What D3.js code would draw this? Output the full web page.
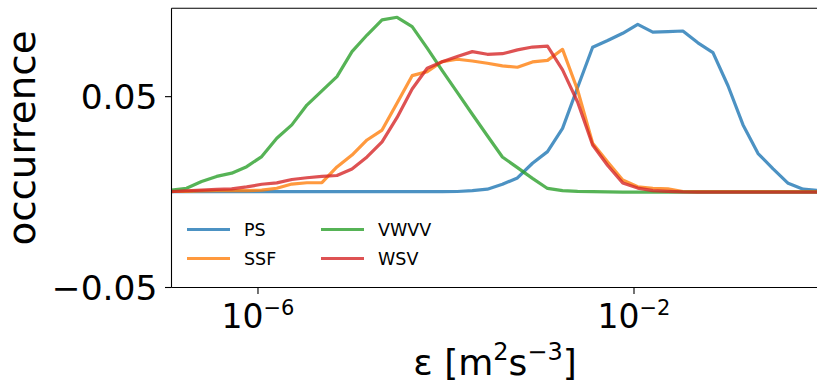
<!DOCTYPE html>
<html>
<head>
<meta charset="utf-8">
<script src="https://cdn.jsdelivr.net/npm/d3@7"></script>
<style>
  html, body { margin: 0; padding: 0; background: #fff; }
  svg { display: block; font-family: "DejaVu Sans", sans-serif; }
</style>
</head>
<body>
<svg id="chart" width="817" height="384"></svg>
<script>
// log10 of the dissipation-rate bin centres
const logEps = [-6.92, -6.76, -6.60, -6.44, -6.28, -6.12, -5.96, -5.80, -5.64, -5.48,
                -5.32, -5.16, -5.00, -4.84, -4.68, -4.52, -4.36, -4.20, -4.04, -3.88,
                -3.72, -3.56, -3.40, -3.24, -3.08, -2.92, -2.76, -2.60, -2.44, -2.28,
                -2.12, -1.96, -1.80, -1.64, -1.48, -1.32, -1.16, -1.00, -0.84, -0.68,
                -0.52, -0.36, -0.20, -0.04];

// occurrence per bin for each regime
const PS = [0.0002, 0.0002, 0.0002, 0.0002, 0.0002, 0.0002, 0.0002, 0.0002, 0.0002, 0.0002,
            0.0002, 0.0002, 0.0002, 0.0002, 0.0002, 0.0002, 0.0002, 0.0002, 0.0002, 0.0003,
            0.0008, 0.0015, 0.0041, 0.0074, 0.0151, 0.0212, 0.0334, 0.0548, 0.0759, 0.0794,
            0.0832, 0.0879, 0.0838, 0.0841, 0.0844, 0.0782, 0.0731, 0.0557, 0.0352, 0.0202,
            0.0122, 0.0046, 0.0015, 0.0008];
const SSF = [0.0003, 0.0004, 0.0006, 0.0007, 0.0008, 0.0008, 0.0010, 0.0020, 0.0042, 0.0049,
             0.0050, 0.0132, 0.0194, 0.0273, 0.0325, 0.0467, 0.0610, 0.0631, 0.0684, 0.0696,
             0.0687, 0.0675, 0.0661, 0.0654, 0.0682, 0.0690, 0.0748, 0.0535, 0.0256, 0.0158,
             0.0063, 0.0028, 0.0020, 0.0017, 0.0003, 0.0002, 0.0002, 0.0002, 0.0002, 0.0002,
             0.0002, 0.0002, 0.0002, 0.0002];
const VWVV = [0.0011, 0.0020, 0.0055, 0.0082, 0.0099, 0.0133, 0.0186, 0.0282, 0.0352, 0.0456,
              0.0530, 0.0605, 0.0736, 0.0823, 0.0902, 0.0916, 0.0867, 0.0754, 0.0636, 0.0522,
              0.0408, 0.0295, 0.0184, 0.0128, 0.0072, 0.0019, 0.0008, 0.0004, 0.0002, 0.0001,
              0, 0, 0, 0, 0, 0, 0, 0, 0, 0,
              0, 0, 0, 0];
const WSV = [0.0003, 0.0007, 0.0010, 0.0014, 0.0017, 0.0027, 0.0041, 0.0048, 0.0066, 0.0075,
             0.0082, 0.0087, 0.0121, 0.0184, 0.0263, 0.0391, 0.0540, 0.0649, 0.0683, 0.0710,
             0.0736, 0.0722, 0.0725, 0.0745, 0.0760, 0.0765, 0.0640, 0.0472, 0.0247, 0.0139,
             0.0048, 0.0021, 0.0008, 0.0004, 0.0001, 0, 0, 0, 0, 0,
             0, 0, 0, 0];

const seriesNames = ["PS", "SSF", "VWVV", "WSV"];
const seriesValues = [PS, SSF, VWVV, WSV];
const seriesColors = ["#1f77b4", "#ff7f0e", "#2ca02c", "#d62728"];

const xTickExponents = [-6, -2];
const yTicks = [-0.05, 0.05];
const yTickLabels = ["\u22120.05", "0.05"];

const svg = d3.select("#chart");
const plot = { left: 171.5, right: 818, top: 8.3, bottom: 287.5 };

const x = d3.scaleLog()
  .domain([Math.pow(10, -6.92), Math.pow(10, -0.0426)])
  .range([plot.left, plot.right]);
const y = d3.scaleLinear()
  .domain([-0.05, 0.0963])
  .range([plot.bottom, plot.top]);

svg.append("defs").append("clipPath").attr("id", "plotclip")
  .append("rect")
  .attr("x", plot.left).attr("y", plot.top)
  .attr("width", plot.right - plot.left).attr("height", plot.bottom - plot.top);

// series lines
const line = d3.line()
  .x((d, i) => x(Math.pow(10, logEps[i])))
  .y(d => y(d));

const lines = svg.append("g").attr("clip-path", "url(#plotclip)");
seriesValues.forEach((vals, s) => {
  lines.append("path")
    .datum(vals)
    .attr("d", line)
    .attr("fill", "none")
    .attr("stroke", seriesColors[s])
    .attr("stroke-opacity", 0.8)
    .attr("stroke-width", 3.2)
    .attr("stroke-linejoin", "round")
    .attr("stroke-linecap", "square");
});

// frame: left, top, bottom spines
const frame = svg.append("g").attr("stroke", "#000").attr("stroke-width", 1.1).attr("fill", "none");
frame.append("line").attr("x1", plot.left).attr("x2", plot.left).attr("y1", plot.top).attr("y2", plot.bottom);
frame.append("line").attr("x1", plot.left).attr("x2", plot.right).attr("y1", plot.top).attr("y2", plot.top);
frame.append("line").attr("x1", plot.left).attr("x2", plot.right).attr("y1", plot.bottom).attr("y2", plot.bottom);

// y axis ticks
const yAxis = svg.append("g");
yTicks.forEach((t, i) => {
  const yy = y(t);
  yAxis.append("line")
    .attr("x1", plot.left - 6.5).attr("x2", plot.left)
    .attr("y1", yy).attr("y2", yy)
    .attr("stroke", "#000").attr("stroke-width", 1.1);
  yAxis.append("text")
    .attr("x", plot.left - 14).attr("y", yy + 12)
    .attr("text-anchor", "end")
    .attr("font-size", 34.5)
    .attr("fill", "#000")
    .text(yTickLabels[i]);
});

// x axis ticks with power-of-ten labels
const xAxis = svg.append("g");
xTickExponents.forEach(e => {
  const xx = x(Math.pow(10, e));
  xAxis.append("line")
    .attr("x1", xx).attr("x2", xx)
    .attr("y1", plot.bottom).attr("y2", plot.bottom + 6.5)
    .attr("stroke", "#000").attr("stroke-width", 1.1);
  const t = xAxis.append("text")
    .attr("x", xx).attr("y", 328)
    .attr("text-anchor", "middle")
    .attr("font-size", 33)
    .attr("fill", "#000");
  t.append("tspan").text("10");
  t.append("tspan").attr("font-size", 21).attr("dy", -13).text("\u2212" + Math.abs(e));
});

// axis labels
const xl = svg.append("text")
  .attr("x", 495).attr("y", 375)
  .attr("text-anchor", "middle")
  .attr("font-size", 36)
  .attr("fill", "#000");
xl.append("tspan").text("\u03b5 [m");
xl.append("tspan").attr("font-size", 24).attr("dy", -15).text("2");
xl.append("tspan").attr("dy", 15).text("s");
xl.append("tspan").attr("font-size", 24).attr("dy", -15).text("\u22123");
xl.append("tspan").attr("dy", 15).text("]");

svg.append("text")
  .attr("transform", "translate(34.5,138) rotate(-90) scale(1.05,1)")
  .attr("text-anchor", "middle")
  .attr("font-size", 37)
  .attr("fill", "#000")
  .text("occurrence");

// legend, two columns without frame
const legend = svg.append("g");
seriesNames.forEach((name, i) => {
  const col = Math.floor(i / 2), row = i % 2;
  const x0 = 187 + col * 134, yy = 229.5 + row * 29;
  legend.append("line")
    .attr("x1", x0).attr("x2", x0 + 43)
    .attr("y1", yy).attr("y2", yy)
    .attr("stroke", seriesColors[i])
    .attr("stroke-opacity", 0.8)
    .attr("stroke-width", 3.2);
  legend.append("text")
    .attr("x", x0 + 57).attr("y", yy + 6.4)
    .attr("font-size", 17.5)
    .attr("fill", "#000")
    .text(name);
});
</script>
</body>
</html>
